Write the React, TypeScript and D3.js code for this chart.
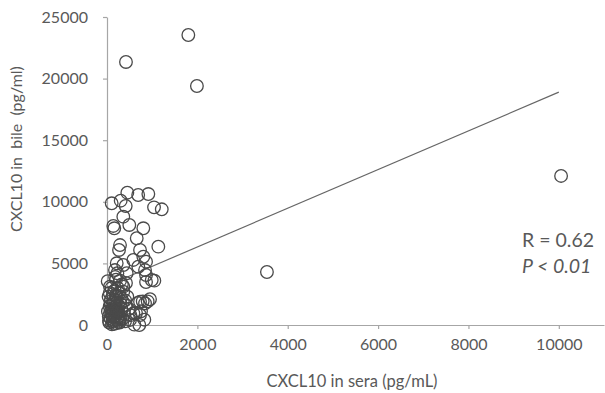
import React, { useEffect, useRef } from 'react';
import * as d3 from 'd3';

// CXCL10 in sera (pg/mL) vs CXCL10 in bile (pg/ml)
const seraValues = [
  1800, 420, 1990, 10050, 3540,
  450, 690, 915, 104, 303, 414, 1041, 1212, 361, 140, 162, 494, 804, 658,
  288, 266, 1136, 731, 804, 583, 864, 215, 361, 693, 842, 177, 436, 864,
  990, 66, 361, 731, 952, 842, 583, 731, 509,
  15, 200, 420, 864, 1048, 680, 790, 900, 642, 753, 826, 605, 715,
  50, 80, 100, 120, 150, 60, 180, 200, 220, 250, 90, 130, 170, 210, 260,
  300, 280, 320, 350, 240, 110, 160, 190, 230, 270, 310, 380, 400, 420,
  140, 70, 40, 200, 330, 360, 450, 480, 520, 100, 290, 230, 180, 60, 150,
  250, 340, 210, 120, 300, 400,
  20, 45, 85, 130, 175, 215, 260, 35, 95, 155, 195, 240, 75, 115, 165, 285,
];
const bileValues = [
  23540, 21350, 19400, 12100, 4300,
  10740, 10550, 10630, 9880, 10090, 9660, 9550, 9390, 8790, 8040, 7850, 8120, 7850, 7040,
  6490, 6090, 6360, 6090, 5540, 5280, 5140, 5010, 4870, 4730, 4460, 4460, 4200, 4060,
  3650, 3110, 3110, 1890, 2090, 1760, 950, 810, 410,
  3550, 3680, 3410, 3490, 3600, 1790, 1920, 1920, 975, 1110, 430, 30, 0,
  200, 500, 900, 300, 1200, 1500, 700, 1800, 400, 1000, 2100, 2500, 2800, 2300, 1500,
  600, 200, 1300, 1900, 3000, 50, 100, 1500, 600, 2600, 2200, 900, 300, 1600,
  1800, 1000, 700, 1100, 3300, 2700, 2300, 1300, 800, 3000, 3600, 4200, 3900, 2600, 400,
  700, 500, 150, 1350, 1700, 2000,
  1100, 350, 1650, 800, 2000, 950, 250, 2300, 1250, 600, 2450, 1150, 1900, 750, 1400, 450,
];
const xTicks = [0, 2000, 4000, 6000, 8000, 10000];
const yTicks = [0, 5000, 10000, 15000, 20000, 25000];
// fitted line end points (sera, bile)
const trendSera = [100, 10000];
const trendBile = [3350, 18900];

const App = () => {
  const svgRef = useRef(null);

  useEffect(() => {
    const W = 605;
    const H = 393;
    const margin = { top: 17, right: 1, bottom: 68, left: 107 };
    const width = W - margin.left - margin.right;
    const height = H - margin.top - margin.bottom;
    const textColor = '#595959';
    const axisColor = '#a6a6a6';
    const font = 'Lato, "Open Sans", sans-serif';

    const root = d3.select(svgRef.current);
    root.selectAll('*').remove();
    root.attr('width', W).attr('height', H);

    const svg = root.append('g')
      .attr('transform', `translate(${margin.left},${margin.top})`);

    const x = d3.scaleLinear().domain([0, 11000]).range([0, width]);
    const y = d3.scaleLinear().domain([0, 25000]).range([height, 0]);

    const xAxis = svg.append('g')
      .attr('transform', `translate(0,${height})`)
      .call(d3.axisBottom(x).tickValues(xTicks).tickSize(4).tickSizeOuter(0).tickPadding(10).tickFormat(d3.format('d')));
    const yAxis = svg.append('g')
      .call(d3.axisLeft(y).tickValues(yTicks).tickSize(4).tickSizeOuter(0).tickPadding(15).tickFormat(d3.format('d')));

    [xAxis, yAxis].forEach(g => {
      g.select('.domain').attr('stroke', axisColor).attr('stroke-width', 1.2);
      g.selectAll('.tick line').attr('stroke', axisColor).attr('stroke-width', 1.2);
      g.selectAll('.tick text')
        .attr('fill', textColor)
        .style('font-family', font)
        .style('font-size', '16px');
    });

    // trend line
    const line = d3.line()
      .x(d => x(d[0]))
      .y(d => y(d[1]));
    svg.append('path')
      .datum(trendSera.map((s, i) => [s, trendBile[i]]))
      .attr('d', line)
      .attr('fill', 'none')
      .attr('stroke', '#666')
      .attr('stroke-width', 1.2);

    svg.selectAll('.pt')
      .data(seraValues.map((s, i) => [s, bileValues[i]]))
      .enter()
      .append('circle')
      .attr('class', 'pt')
      .attr('cx', d => x(d[0]))
      .attr('cy', d => y(d[1]))
      .attr('r', 6.3)
      .attr('fill', 'none')
      .attr('stroke', '#4a4a4a')
      .attr('stroke-width', 1.3);

    // axis titles
    root.append('text')
      .attr('x', 352)
      .attr('y', 387)
      .attr('text-anchor', 'middle')
      .attr('fill', textColor)
      .style('font-family', font)
      .style('font-size', '16.5px')
      .text('CXCL10 in sera (pg/mL)');

    root.append('text')
      .attr('transform', 'translate(22,149) rotate(-90)')
      .attr('text-anchor', 'middle')
      .attr('fill', textColor)
      .style('font-family', font)
      .style('font-size', '16px')
      .style('white-space', 'pre')
      .text('CXCL10 in  bile  (pg/ml)');

    // statistics
    root.append('text')
      .attr('x', 522)
      .attr('y', 247)
      .attr('fill', textColor)
      .style('font-family', font)
      .style('font-size', '19.5px')
      .style('white-space', 'pre')
      .text('R = 0.62');
    root.append('text')
      .attr('x', 522)
      .attr('y', 273)
      .attr('fill', textColor)
      .style('font-family', font)
      .style('font-size', '19.5px')
      .style('font-style', 'italic')
      .text('P < 0.01');
  }, []);

  return (
    <div>
      <svg ref={svgRef} style={{ position: 'absolute', left: 0, top: 0 }}></svg>
    </div>
  );
};

export default App;
